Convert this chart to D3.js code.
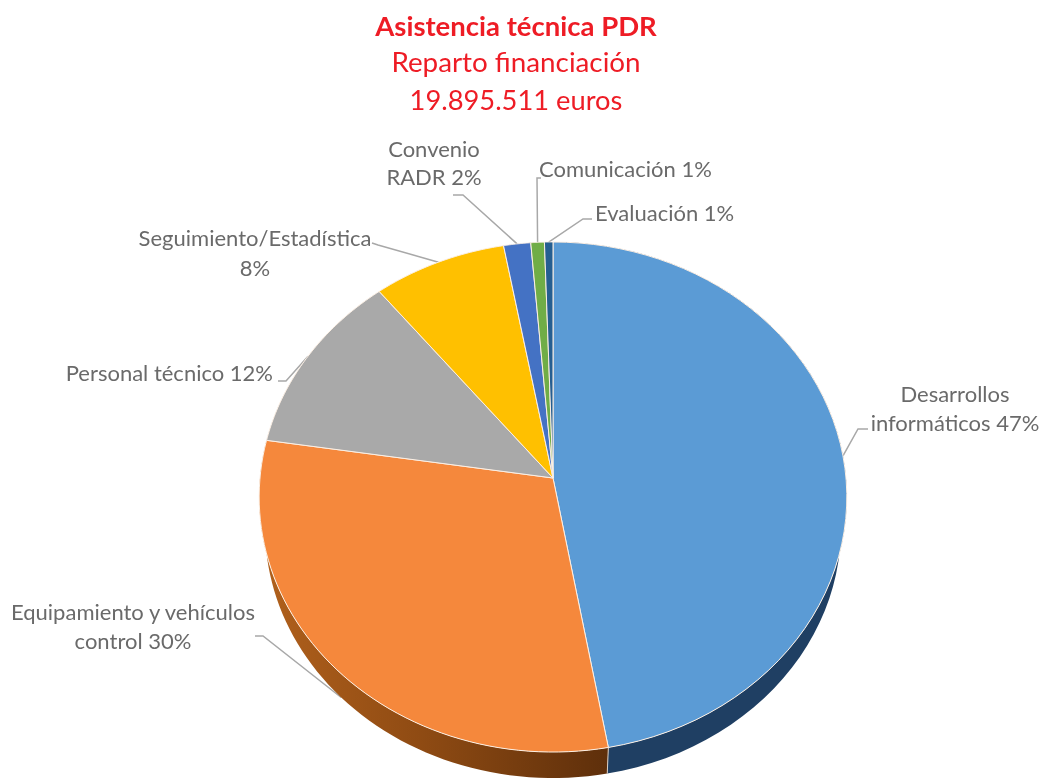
<!DOCTYPE html>
<html>
<head>
<meta charset="utf-8">
<script src="https://cdn.jsdelivr.net/npm/d3@7"></script>
<style>
  html, body { margin: 0; padding: 0; background: #fff; }
  svg { display: block; filter: blur(0.6px); }
  text { font-family: Lato, "Open Sans", sans-serif; }
</style>
</head>
<body>
<div id="chart"></div>
<script>
const width = 1043;
const height = 780;

// Datos (% del reparto)
const categories = ['Desarrollos informáticos', 'Equipamiento y vehículos control', 'Personal técnico',
  'Seguimiento/Estadística', 'Convenio RADR', 'Comunicación', 'Evaluación'];
const shares = [47.2, 30.2, 11.8, 7.9, 1.6, 0.8, 0.5];
const titleLines = ['Asistencia técnica PDR', 'Reparto financiación', '19.895.511 euros'];
const sliceColors = ['#5b9bd5', '#f5883c', '#a9a9a9', '#ffc000', '#4472c4', '#70ad47', '#255e91'];

// Etiquetas: lineas de texto, ancla, x, y de cada linea
const labelLayout = [
  { lines: ['Desarrollos', 'informáticos 47%'], anchor: 'middle', x: 955, y: [402, 431] },
  { lines: ['Equipamiento y vehículos', 'control 30%'], anchor: 'middle', x: 133, y: [620, 649] },
  { lines: ['Personal técnico 12%'], anchor: 'end', x: 273, y: [381] },
  { lines: ['Seguimiento/Estadística', '8%'], anchor: 'middle', x: 255, y: [246, 276] },
  { lines: ['Convenio', 'RADR 2%'], anchor: 'middle', x: 434, y: [157, 185] },
  { lines: ['Comunicación 1%'], anchor: 'start', x: 539, y: [177] },
  { lines: ['Evaluación 1%'], anchor: 'start', x: 595, y: [221] }
];

// Codos de las lineas guia (del texto hacia el borde)
const leaderElbows = [
  [[868, 429], [858, 429]],
  [[255, 636], [263, 636]],
  [[278, 381], [286, 381]],
  [[372, 243], [378, 245]],
  [[453, 195], [463, 195]],
  [[541, 178], [537, 178]],
  [[592, 219], [583, 219]]
];

// Geometria de la tarta en perspectiva
const apexX = 553;
const apexY = 478;
const radiusX = 293;
const radiusY = 253.6;
const tilt = 0.0746;
const wallDrop = 31.5;
const wallScale = 0.98;

function rimPoint(angle, level) {
  const u = Math.sin(angle);
  const v = -Math.cos(angle);
  const w = 1 - tilt * v;
  const s = level ? wallScale : 1;
  return [apexX + s * radiusX * u / w, apexY + (level ? wallDrop : 0) + s * radiusY * v / w];
}

function rimPoints(a0, a1, level) {
  return d3.range(0, 61).map(i => rimPoint(a0 + (a1 - a0) * i / 60, level));
}

const arcs = d3.pie().sort(null).value(d => d)(shares);
const line = d3.line();

const svg = d3.select('#chart').append('svg')
  .attr('width', width)
  .attr('height', height);

// Degradados de la pared lateral
const defs = svg.append('defs');
const orangeWall = defs.append('linearGradient')
  .attr('id', 'orangeWall')
  .attr('gradientUnits', 'userSpaceOnUse')
  .attr('x1', 265).attr('x2', 610).attr('y1', 0).attr('y2', 0);
orangeWall.append('stop').attr('offset', '0%').attr('stop-color', '#b0601c');
orangeWall.append('stop').attr('offset', '45%').attr('stop-color', '#8f4b13');
orangeWall.append('stop').attr('offset', '100%').attr('stop-color', '#5e2f0b');

// Titulo
const titleY = [36, 72, 110];
const titleSize = [27.5, 27.8, 27.3];
svg.append('g').selectAll('text')
  .data(titleLines)
  .enter()
  .append('text')
  .attr('x', 516)
  .attr('y', (d, i) => titleY[i])
  .attr('text-anchor', 'middle')
  .attr('font-size', (d, i) => titleSize[i])
  .attr('font-weight', (d, i) => i === 0 ? 700 : 400)
  .attr('fill', '#ee1c25')
  .text(d => d);

// Lineas guia, debajo de la tarta
svg.append('g').selectAll('path')
  .data(arcs)
  .enter()
  .append('path')
  .attr('fill', 'none')
  .attr('stroke', '#a8a8a8')
  .attr('stroke-width', 1.5)
  .attr('d', (d, i) => {
    const mid = (d.startAngle + d.endAngle) / 2;
    return line([...leaderElbows[i], rimPoint(mid, i === 1 ? 1 : 0)]);
  });

// Pared lateral
const wallColors = ['#1f3f63', 'url(#orangeWall)'];
svg.append('g').selectAll('path')
  .data(arcs.slice(0, 2))
  .enter()
  .append('path')
  .attr('fill', (d, i) => wallColors[i])
  .attr('d', d => line([...rimPoints(d.startAngle, d.endAngle, 0),
    ...rimPoints(d.endAngle, d.startAngle, 1)]) + 'Z');

// Separador en la pared
svg.append('line')
  .attr('x1', rimPoint(arcs[0].endAngle, 0)[0])
  .attr('y1', rimPoint(arcs[0].endAngle, 0)[1])
  .attr('x2', rimPoint(arcs[0].endAngle, 1)[0])
  .attr('y2', rimPoint(arcs[0].endAngle, 1)[1])
  .attr('stroke', '#d9cfc6')
  .attr('stroke-width', 1);

// Porciones
svg.append('g').selectAll('path')
  .data(arcs)
  .enter()
  .append('path')
  .attr('fill', (d, i) => sliceColors[i])
  .attr('stroke', '#fbefe4')
  .attr('stroke-width', 1)
  .attr('stroke-linejoin', 'round')
  .attr('d', d => line([[apexX, apexY], ...rimPoints(d.startAngle, d.endAngle, 0)]) + 'Z');

// Etiquetas
const labels = svg.append('g').selectAll('g')
  .data(labelLayout)
  .enter()
  .append('g');

labels.selectAll('text')
  .data(d => d.lines.map((t, i) => ({ t, x: d.x, y: d.y[i], anchor: d.anchor })))
  .enter()
  .append('text')
  .attr('x', d => d.x)
  .attr('y', d => d.y)
  .attr('text-anchor', d => d.anchor)
  .attr('font-size', 22)
  .attr('fill', '#6a6a6a')
  .text(d => d.t);
</script>
</body>
</html>
